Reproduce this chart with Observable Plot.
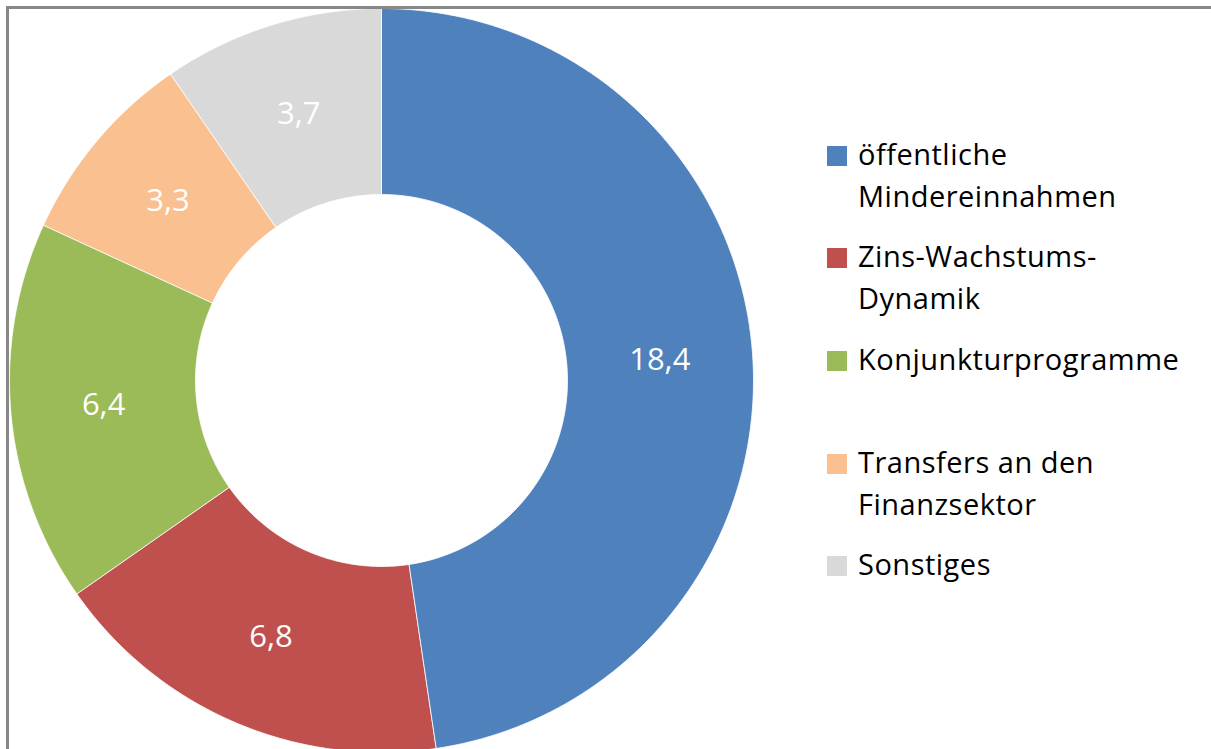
<!DOCTYPE html>
<html>
<head>
<meta charset="utf-8">
<script src="https://cdn.jsdelivr.net/npm/d3@7"></script>
<script src="https://cdn.jsdelivr.net/npm/@observablehq/plot@0.6"></script>
<style>
  html, body { margin: 0; padding: 0; background: #fff; }
  #wrap { position: relative; width: 1211px; height: 749px; overflow: hidden; font-family: "Open Sans", sans-serif; }
  #frame { position: absolute; left: 6px; top: 6px; width: 1300px; height: 900px; border-left: 3px solid #888; border-top: 3px solid #888; box-sizing: border-box; pointer-events: none; }
  #chart { position: absolute; left: 0; top: 0; }
  .lg { position: absolute; left: 827px; }
  .lg .sw { position: absolute; left: 0; width: 20px; height: 20px; }
  .lg .tx { position: absolute; left: 31px; font-size: 29px; letter-spacing: 0.5px; line-height: 42px; color: #000; white-space: nowrap; }
</style>
</head>
<body>
<div id="wrap">
  <div id="chart"></div>
  <div id="legend"></div>
  <div id="frame"></div>
</div>
<script>
const categories = ["öffentliche Mindereinnahmen", "Zins-Wachstums-Dynamik", "Konjunkturprogramme", "Transfers an den Finanzsektor", "Sonstiges"];
const legendLines = [["öffentliche", "Mindereinnahmen"], ["Zins-Wachstums-", "Dynamik"], ["Konjunkturprogramme"], ["Transfers an den", "Finanzsektor"], ["Sonstiges"]];
const values = [18.4, 6.8, 6.4, 3.3, 3.7];
const valueLabels = ["18,4", "6,8", "6,4", "3,3", "3,7"];
const colors = ["#4F81BD", "#C0504D", "#9BBB59", "#FAC090", "#D9D9D9"];

const W = 1211, H = 749;
const cx = 381, cy = 380, R = 372;
const inner = 0.5;

const arcs = d3.pie().sort(null).value(d => d)(values);
const poly = [];
const labels = [];
arcs.forEach((a, i) => {
  const n = 120;
  for (let k = 0; k <= n; k++) {
    const t = a.startAngle + (a.endAngle - a.startAngle) * k / n;
    poly.push({cat: categories[i], x: Math.sin(t), y: Math.cos(t)});
  }
  for (let k = n; k >= 0; k--) {
    const t = a.startAngle + (a.endAngle - a.startAngle) * k / n;
    poly.push({cat: categories[i], x: inner * Math.sin(t), y: inner * Math.cos(t)});
  }
  const m = (a.startAngle + a.endAngle) / 2, rm = (1 + inner) / 2;
  labels.push({cat: categories[i], text: valueLabels[i], x: rm * Math.sin(m), y: rm * Math.cos(m)});
});

const chart = Plot.plot({
  width: W, height: H,
  margin: 0,
  x: {domain: [-cx / R, (W - cx) / R], axis: null},
  y: {domain: [-(H - cy) / R, cy / R], axis: null},
  color: {domain: categories, range: colors},
  style: {background: "transparent", fontFamily: "Open Sans, sans-serif"},
  marks: [
    Plot.line(poly, {x: "x", y: "y", z: "cat", fill: "cat", stroke: "white", strokeWidth: 0.8, curve: "linear-closed"}),
    Plot.text(labels, {x: "x", y: "y", text: "text", fill: "white", fontSize: 31})
  ]
});
document.getElementById("chart").appendChild(chart);

// legend
const legendTops = [133, 235, 338, 441, 543];
const lg = document.getElementById("legend");
legendLines.forEach((lines, i) => {
  const item = document.createElement("div");
  item.className = "lg";
  item.style.top = legendTops[i] + "px";
  const sw = document.createElement("div");
  sw.className = "sw";
  sw.style.background = colors[i];
  sw.style.top = "13px";
  item.appendChild(sw);
  const tx = document.createElement("div");
  tx.className = "tx";
  tx.style.top = "0px";
  tx.innerHTML = lines.join("<br>");
  item.appendChild(tx);
  lg.appendChild(item);
});
</script>
</body>
</html>
